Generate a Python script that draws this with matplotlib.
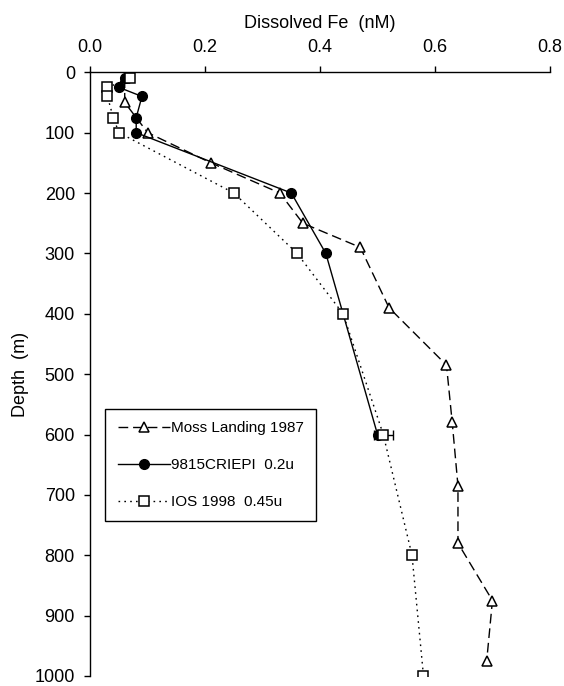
import matplotlib
matplotlib.use("Agg")
import matplotlib.pyplot as plt

plt.rcParams['font.family'] = ['Liberation Sans', 'DejaVu Sans']

# Moss Landing 1987
moss_depth = [10, 50, 100, 150, 200, 250, 290, 390, 485, 580, 685, 780, 875, 975]
moss_fe = [0.06, 0.06, 0.10, 0.21, 0.33, 0.37, 0.47, 0.52, 0.62, 0.63, 0.64, 0.64, 0.70, 0.69]

# 9815CRIEPI 0.2u
criepi_depth = [10, 25, 40, 75, 100, 200, 300, 600]
criepi_fe = [0.06, 0.05, 0.09, 0.08, 0.08, 0.35, 0.41, 0.50]

# IOS 1998 0.45u
ios_depth = [10, 25, 40, 75, 100, 200, 300, 400, 600, 800, 1000]
ios_fe = [0.07, 0.03, 0.03, 0.04, 0.05, 0.25, 0.36, 0.44, 0.51, 0.56, 0.58]

# error bar on the 600 m IOS sample
err_depth = [600]
err_fe = [0.51]
err_x = [0.017]

fig = plt.figure(figsize=(5.64, 6.86), dpi=100)
ax = fig.add_axes([0.16, 0.0146, 0.815, 0.88])

ax.plot(moss_fe, moss_depth, color='black', lw=1.0, linestyle=(0, (7, 3.5)),
        marker='^', markersize=7, markerfacecolor='white', markeredgecolor='black',
        markeredgewidth=1.1, label='Moss Landing 1987')
ax.plot(criepi_fe, criepi_depth, color='black', lw=1.0, linestyle='-',
        marker='o', markersize=7, markerfacecolor='black', markeredgecolor='black',
        label='9815CRIEPI  0.2u')
ax.errorbar(err_fe, err_depth, xerr=err_x, fmt='none', ecolor='black',
            elinewidth=1.0, capsize=3.5)
ax.plot(ios_fe, ios_depth, color='black', lw=1.0, linestyle=(0, (1.2, 3)),
        marker='s', markersize=7, markerfacecolor='white', markeredgecolor='black',
        markeredgewidth=1.1, label='IOS 1998  0.45u')

ax.set_xlim(0, 0.8)
ax.set_ylim(1000, 0)
ax.set_xticks([0.0, 0.2, 0.4, 0.6, 0.8])
ax.set_xticklabels(['0.0', '0.2', '0.4', '0.6', '0.8'])
ax.set_yticks(range(0, 1001, 100))

ax.xaxis.tick_top()
ax.xaxis.set_label_position('top')
ax.spines['right'].set_visible(False)
ax.spines['bottom'].set_visible(False)
for s in ('top', 'left'):
    ax.spines[s].set_linewidth(1.0)
ax.tick_params(axis='both', direction='out', length=4, width=1.0, labelsize=13)
ax.tick_params(axis='x', pad=8)
ax.tick_params(axis='y', pad=7)

ax.set_xlabel('Dissolved Fe  (nM)', fontsize=13, labelpad=8)
ax.set_ylabel('Depth  (m)', fontsize=13, labelpad=4)

leg = ax.legend(loc='upper left', bbox_to_anchor=(0.033, 0.442), fontsize=11,
                frameon=True, fancybox=False, edgecolor='black', framealpha=1,
                handlelength=3.4, handletextpad=0.1, labelspacing=1.5,
                borderpad=0.8, borderaxespad=0)
leg.get_frame().set_linewidth(1.0)

fig.savefig('out.png', dpi=100)
